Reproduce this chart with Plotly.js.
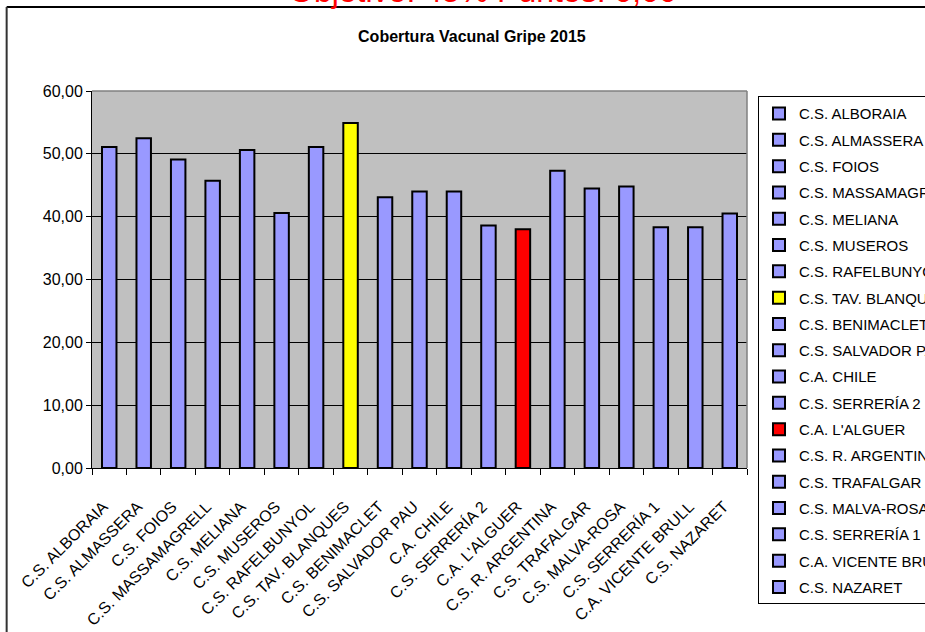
<!DOCTYPE html>
<html>
<head>
<meta charset="utf-8">
<script src="https://cdn.plot.ly/plotly-3.0.1.min.js"></script>
<style>html,body{margin:0;padding:0;background:#fff;} #chart{width:925px;height:632px;}</style>
</head>
<body>
<div id="chart"></div>
<script>
const categories = ["C.S. ALBORAIA","C.S. ALMASSERA","C.S. FOIOS","C.S. MASSAMAGRELL","C.S. MELIANA","C.S. MUSEROS","C.S. RAFELBUNYOL","C.S. TAV. BLANQUES","C.S. BENIMACLET","C.S. SALVADOR PAU","C.A. CHILE","C.S. SERRERÍA 2","C.A. L'ALGUER","C.S. R. ARGENTINA","C.S. TRAFALGAR","C.S. MALVA-ROSA","C.S. SERRERÍA 1","C.A. VICENTE BRULL","C.S. NAZARET"];
const coverage = [51.1, 52.5, 49.1, 45.7, 50.6, 40.6, 51.1, 54.9, 43.1, 44.0, 44.0, 38.6, 38.0, 47.3, 44.5, 44.8, 38.3, 38.3, 40.5];
const barColors = ["#9999FF","#9999FF","#9999FF","#9999FF","#9999FF","#9999FF","#9999FF","#FFFF00","#9999FF","#9999FF","#9999FF","#9999FF","#FF0000","#9999FF","#9999FF","#9999FF","#9999FF","#9999FF","#9999FF"];
const yTicks = [0, 10, 20, 30, 40, 50, 60];
const yTickText = ["0,00","10,00","20,00","30,00","40,00","50,00","60,00"];
const chartTitle = "Cobertura Vacunal Gripe 2015";
const topNote = "Objetivo: 45% Puntos: 0,00";

const FONT = "Liberation Sans, Arial, sans-serif";

const traces = categories.map((c, i) => ({
  type: "bar",
  name: c,
  x: [c],
  y: [coverage[i]],
  width: 0.42,
  legendgroup: "g" + i,
  marker: {color: barColors[i], line: {color: "#000", width: 2}},
  hoverinfo: "x+y"
}));

const layout = {
  width: 925, height: 632,
  paper_bgcolor: "#fff",
  plot_bgcolor: "#C0C0C0",
  margin: {l: 92.3, r: 178.3, t: 91, b: 164.3, autoexpand: false},
  barmode: "overlay",
  showlegend: true,
  font: {family: FONT, color: "#000", size: 14},
  title: {
    text: "<b>" + chartTitle + "</b>",
    font: {family: FONT, size: 16, color: "#000"},
    xref: "paper", x: 0.58, xanchor: "center",
    yref: "container", y: 0.942, yanchor: "middle"
  },
  xaxis: {
    type: "category",
    categoryorder: "array", categoryarray: categories,
    tickangle: -45,
    ticks: "outside", ticklen: 6, tickcolor: "#000", tickwidth: 1,
    tickson: "boundaries",
    ticklabelstandoff: 22,
    ticklabelshift: -6,
    showline: true, linecolor: "#000", linewidth: 1,
    showgrid: false,
    tickfont: {family: FONT, size: 16, color: "#000"},
    range: [-0.5, 18.5],
    fixedrange: true
  },
  yaxis: {
    range: [0, 60],
    tickvals: yTicks, ticktext: yTickText,
    ticks: "outside", ticklen: 5, tickcolor: "#000",
    showline: true, linecolor: "#000", linewidth: 1,
    showgrid: true, gridcolor: "#000", gridwidth: 1,
    zeroline: false,
    tickfont: {family: FONT, size: 16, color: "#000"},
    fixedrange: true
  },
  legend: {
    x: 1.0168, xanchor: "left",
    y: 0.9859, yanchor: "top",
    bgcolor: "#fff", bordercolor: "#000", borderwidth: 1,
    font: {family: FONT, size: 15, color: "#000"},
    traceorder: "grouped",
    tracegroupgap: 3.8,
    itemwidth: 30,
    maxheight: 620
  },
  shapes: [
    {type: "line", xref: "paper", yref: "paper", x0: 0, x1: 1, y0: 1, y1: 1, line: {color: "#808080", width: 1.5}, layer: "above"},
    {type: "line", xref: "paper", yref: "paper", x0: 1, x1: 1, y0: 0, y1: 1, line: {color: "#808080", width: 1.5}, layer: "above"},
    {type: "line", xref: "paper", yref: "paper", x0: -0.1303, x1: 1.3, y0: 1.2230, y1: 1.2230, line: {color: "#000", width: 2}},
    {type: "line", xref: "paper", yref: "paper", x0: -0.1303, x1: -0.1303, y0: 1.2230, y1: -0.5, line: {color: "#333", width: 2}}
  ],
  annotations: [
    {text: topNote, xref: "paper", yref: "paper", x: 0.5975, y: 1.2124, xanchor: "center", yanchor: "bottom",
     showarrow: false, font: {family: FONT, size: 32, color: "#FF0000"}}
  ]
};

Plotly.newPlot("chart", traces, layout, {displayModeBar: false, staticPlot: true});
</script>
</body>
</html>
